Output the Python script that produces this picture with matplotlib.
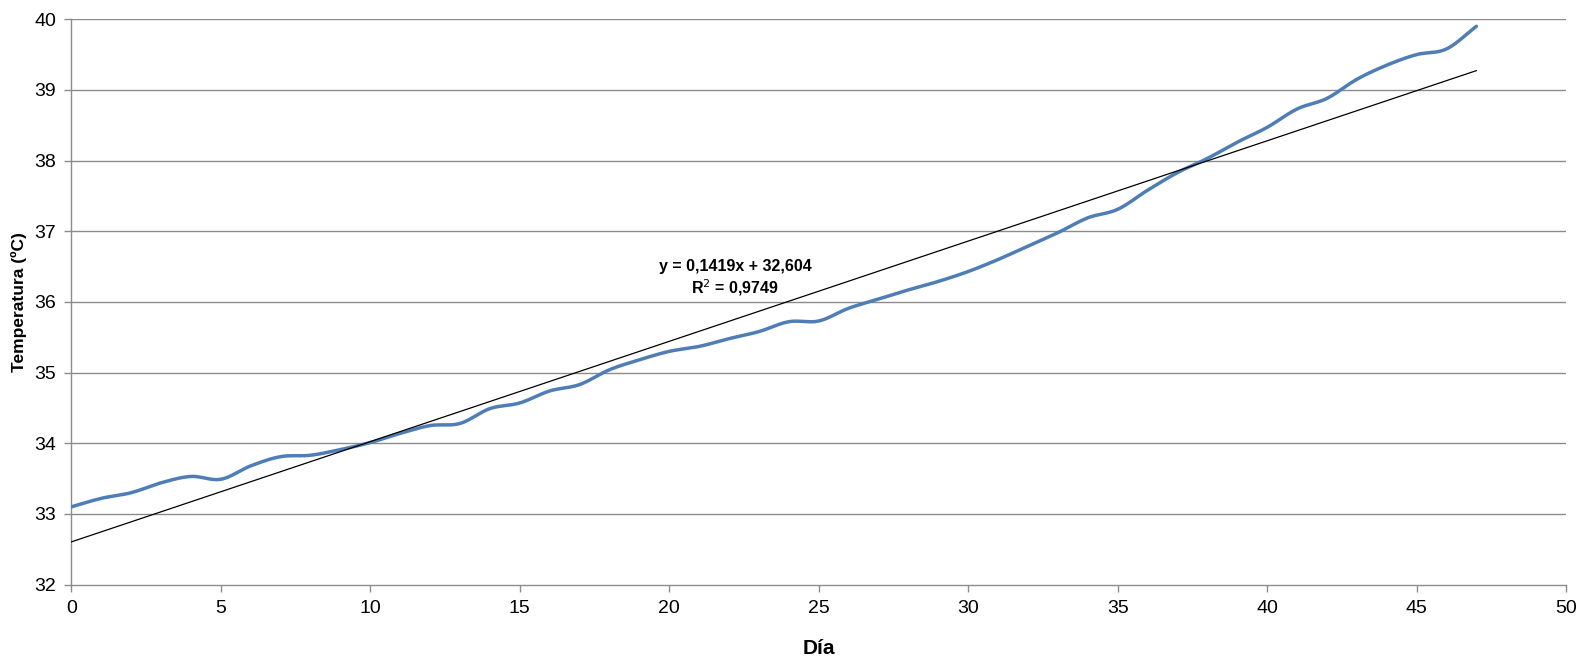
import numpy as np
import matplotlib
matplotlib.use("Agg")
import matplotlib.pyplot as plt

plt.rcParams['font.family'] = ['Liberation Sans Narrow', 'Liberation Sans', 'DejaVu Sans']

# Daily temperature readings
dias = list(range(48))
temperatura = [
    33.10, 33.22, 33.30, 33.44, 33.53, 33.49, 33.68, 33.81, 33.83, 33.91,
    34.01, 34.14, 34.25, 34.28, 34.49, 34.57, 34.74, 34.83, 35.04, 35.18,
    35.30, 35.37, 35.48, 35.58, 35.72, 35.73, 35.91, 36.04, 36.17, 36.29,
    36.43, 36.60, 36.79, 36.98, 37.19, 37.31, 37.58, 37.83, 38.03, 38.26,
    38.47, 38.73, 38.88, 39.15, 39.35, 39.50, 39.58, 39.90,
]

# Linear trend (from the fitted equation)
pendiente = 0.1419
intercepto = 32.604
r2 = 0.9749

x_ticks = [0, 5, 10, 15, 20, 25, 30, 35, 40, 45, 50]
y_ticks = [32, 33, 34, 35, 36, 37, 38, 39, 40]


def catmull_rom(x, y, n=20):
    """Smooth curve through the points (Catmull-Rom spline)."""
    x = np.asarray(x, float)
    y = np.asarray(y, float)
    px = np.concatenate([[2 * x[0] - x[1]], x, [2 * x[-1] - x[-2]]])
    py = np.concatenate([[2 * y[0] - y[1]], y, [2 * y[-1] - y[-2]]])
    xs, ys = [], []
    t = np.linspace(0, 1, n, endpoint=False)
    for i in range(1, len(px) - 2):
        for arr, out in ((px, xs), (py, ys)):
            p0, p1, p2, p3 = arr[i - 1], arr[i], arr[i + 1], arr[i + 2]
            out.extend(0.5 * ((2 * p1) + (-p0 + p2) * t
                              + (2 * p0 - 5 * p1 + 4 * p2 - p3) * t ** 2
                              + (-p0 + 3 * p1 - 3 * p2 + p3) * t ** 3))
    xs.append(x[-1])
    ys.append(y[-1])
    return np.array(xs), np.array(ys)


fig = plt.figure(figsize=(15.91, 6.65), dpi=100)
ax = fig.add_axes([0.0449, 0.121, 0.9394, 0.850])

grid_color = '#8c8c8c'
for yv in y_ticks[1:]:
    ax.axhline(yv, color=grid_color, lw=1.0, zorder=1)

sx, sy = catmull_rom(dias, temperatura)
ax.plot(sx, sy, color='#4F7DB5', lw=2.5, solid_capstyle='round', zorder=3)

xt = np.array([dias[0], dias[-1]], float)
ax.plot(xt, pendiente * xt + intercepto, color='black', lw=0.9, zorder=4)

ecuacion = f"y = {pendiente:.4f}x + {intercepto:.3f}".replace('.', ',')
r2_txt = f"R$^2$ = {r2:.4f}".replace('.', ',')
ax.text(22.2, 36.5, ecuacion, ha='center', va='center', fontsize=11.5,
        fontweight='bold', zorder=5)
ax.text(22.2, 36.2, r2_txt, ha='center', va='center', fontsize=11.5,
        fontweight='bold', zorder=5)

ax.set_xlim(0, 50)
ax.set_ylim(32, 40)
ax.set_xticks(x_ticks)
ax.set_yticks(y_ticks)
ax.tick_params(axis='both', labelsize=14, color=grid_color, length=5,
               width=1.0, direction='out', pad=6)

for side in ('top', 'right'):
    ax.spines[side].set_visible(False)
for side in ('left', 'bottom'):
    ax.spines[side].set_color(grid_color)
    ax.spines[side].set_linewidth(1.0)

ax.set_xlabel('Día', fontsize=15, fontweight='bold', labelpad=16)
ax.set_ylabel('Temperatura (ºC)', fontsize=12.5, fontweight='bold', labelpad=5)

fig.savefig('out.png', dpi=100, facecolor='white')
